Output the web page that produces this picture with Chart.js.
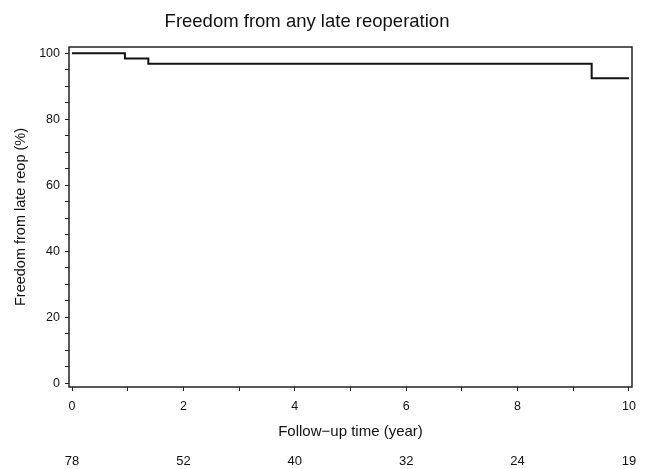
<!DOCTYPE html>
<html>
<head>
<meta charset="utf-8">
<script src="https://cdn.jsdelivr.net/npm/chart.js@4.4.0/dist/chart.umd.min.js"></script>
<style>
  html, body { margin: 0; padding: 0; background: #fff; }
  #wrap { width: 649px; height: 469px; position: relative; }
</style>
</head>
<body>
<div id="wrap"><canvas id="kmChart"></canvas></div>
<script>
// Kaplan-Meier estimate
const timeYears = [0, 0.95, 1.37, 9.33, 10];
const freedomPct = [100, 98.4, 96.8, 92.4, 92.4];

// axis ticks
const xTickValues = [0, 1, 2, 3, 4, 5, 6, 7, 8, 9, 10];
const yTickValues = [0, 5, 10, 15, 20, 25, 30, 35, 40, 45, 50, 55, 60, 65, 70, 75, 80, 85, 90, 95, 100];

// numbers at risk under the axis
const riskTimes = [0, 2, 4, 6, 8, 10];
const atRisk = [78, 52, 40, 32, 24, 19];

const ink = '#111';
const fontFamily = '"Liberation Sans", Arial, sans-serif';

// box round the plot + title + risk table
const extras = {
  id: 'extras',
  beforeDatasetsDraw(chart) {
    const { ctx, chartArea: a } = chart;
    ctx.save();
    ctx.strokeStyle = '#222';
    ctx.lineWidth = 1.5;
    ctx.strokeRect(a.left, a.top, a.right - a.left, a.bottom - a.top);
    ctx.restore();
  },
  afterDraw(chart) {
    const { ctx } = chart;
    const xs = chart.scales.x;
    ctx.save();
    ctx.fillStyle = ink;
    ctx.textAlign = 'center';
    ctx.textBaseline = 'middle';
    ctx.font = '18.5px ' + fontFamily;
    ctx.fillText('Freedom from any late reoperation', 307, 22);
    ctx.font = '13px ' + fontFamily;
    riskTimes.forEach((t, i) => {
      ctx.fillText(String(atRisk[i]), xs.getPixelForValue(t), 461);
    });
    ctx.restore();
  }
};

new Chart(document.getElementById('kmChart').getContext('2d'), {
  type: 'line',
  data: {
    datasets: [{
      data: timeYears.map((t, i) => ({ x: t, y: freedomPct[i] })),
      stepped: true,
      borderColor: ink,
      borderWidth: 2,
      pointRadius: 0,
      fill: false
    }]
  },
  options: {
    responsive: true,
    maintainAspectRatio: false,
    animation: false,
    layout: { padding: { top: 47, right: 17, left: 0, bottom: 0 } },
    scales: {
      x: {
        type: 'linear',
        min: -0.054,
        max: 10.054,
        afterBuildTicks: s => { s.ticks = xTickValues.map(v => ({ value: v })); },
        afterFit: s => { s.height = 82; },
        grid: { drawOnChartArea: false, tickLength: 4, tickColor: '#222', tickWidth: 1 },
        border: { display: false },
        ticks: {
          autoSkip: false,
          maxRotation: 0,
          padding: 8,
          color: ink,
          font: { family: fontFamily, size: 12.5 },
          callback: v => (v % 2 === 0 ? v : '')
        },
        title: {
          display: true,
          text: 'Follow\u2212up time (year)',
          color: ink,
          font: { family: fontFamily, size: 15 },
          padding: { top: 0, bottom: 28 }
        }
      },
      y: {
        min: -1.1,
        max: 101.9,
        afterBuildTicks: s => { s.ticks = yTickValues.map(v => ({ value: v })); },
        afterFit: s => { s.width = 69; },
        grid: { drawOnChartArea: false, tickLength: 4, tickColor: '#222', tickWidth: 1 },
        border: { display: false },
        ticks: {
          autoSkip: false,
          padding: 5,
          color: ink,
          font: { family: fontFamily, size: 12.5 },
          callback: v => (v % 20 === 0 ? v : '')
        },
        title: {
          display: true,
          text: 'Freedom from late reop (%)',
          color: ink,
          font: { family: fontFamily, size: 14.5 },
          padding: { top: 12, bottom: 0 }
        }
      }
    },
    plugins: {
      legend: { display: false },
      tooltip: { enabled: false }
    }
  },
  plugins: [extras]
});
</script>
</body>
</html>
